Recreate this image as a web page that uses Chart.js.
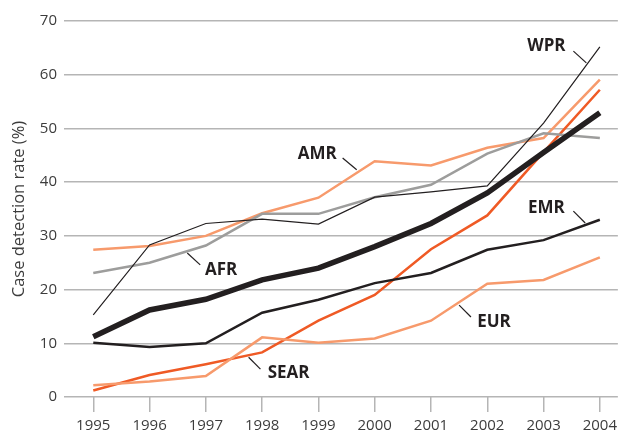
<!DOCTYPE html>
<html>
<head>
<meta charset="utf-8">
<script src="https://cdn.jsdelivr.net/npm/chart.js@4"></script>
<style>
  html, body { margin: 0; padding: 0; background: #fff; }
  #wrap { width: 622px; height: 432px; position: relative; }
</style>
</head>
<body>
<div id="wrap"><canvas id="line"></canvas></div>
<script>
const years = [1995, 1996, 1997, 1998, 1999, 2000, 2001, 2002, 2003, 2004];

const global = [11.2, 16.2, 18.2, 21.8, 24.0, 28.0, 32.3, 38.0, 45.5, 52.9];
const wpr    = [15.3, 28.3, 32.3, 33.1, 32.2, 37.2, 38.2, 39.3, 51.0, 65.2];
const afr    = [23.1, 25.0, 28.2, 34.1, 34.1, 37.2, 39.5, 45.3, 49.1, 48.2];
const amr    = [27.4, 28.1, 30.0, 34.2, 37.1, 43.9, 43.1, 46.4, 48.2, 59.1];
const emr    = [10.1, 9.3, 10.0, 15.7, 18.1, 21.2, 23.1, 27.4, 29.2, 33.0];
const sear   = [1.2, 4.1, 6.1, 8.3, 14.2, 19.0, 27.5, 33.8, 45.6, 57.2];
const eur    = [2.2, 2.9, 3.9, 11.1, 10.1, 10.9, 14.2, 21.1, 21.8, 26.0];

const yTicks = [0, 10, 20, 30, 40, 50, 60, 70];

const ink = '#231f20';
const grey = '#9d9d9c';
const salmon = '#f79a6c';
const redOrange = '#ef5a25';

const pts = arr => arr.map((v, i) => ({ x: years[i], y: v }));

// region labels with short leader lines (in data units)
const callouts = [
    { text: 'WPR',  x: 2003.05, y: 65.4, from: [2003.53, 64.4], to: [2003.76, 62.2] },
    { text: 'AMR',  x: 1998.98, y: 45.2, from: [1999.43, 44.5], to: [1999.68, 42.3] },
    { text: 'EMR',  x: 2003.05, y: 35.2, from: [2003.53, 34.6], to: [2003.74, 32.4] },
    { text: 'AFR',  x: 1997.27, y: 23.6, from: [1996.67, 26.8], to: [1996.90, 24.6] },
    { text: 'EUR',  x: 2002.12, y: 14.0, from: [2001.50, 17.1], to: [2001.71, 14.9] },
    { text: 'SEAR', x: 1998.47, y: 4.5,  from: [1997.76, 7.4],  to: [1997.97, 5.2] },
];

const calloutPlugin = {
    id: 'callouts',
    afterDatasetsDraw(chart) {
        const { ctx, scales: { x, y } } = chart;
        ctx.save();
        ctx.fillStyle = ink;
        ctx.strokeStyle = ink;
        ctx.lineWidth = 1.2;
        ctx.font = 'bold 17px "Open Sans"';
        ctx.textAlign = 'center';
        ctx.textBaseline = 'middle';
        callouts.forEach(c => {
            ctx.fillText(c.text, x.getPixelForValue(c.x), y.getPixelForValue(c.y));
            ctx.beginPath();
            ctx.moveTo(x.getPixelForValue(c.from[0]), y.getPixelForValue(c.from[1]));
            ctx.lineTo(x.getPixelForValue(c.to[0]), y.getPixelForValue(c.to[1]));
            ctx.stroke();
        });
        ctx.restore();
    }
};

const line = (label, arr, color, width) => ({
    label: label,
    data: pts(arr),
    borderColor: color,
    backgroundColor: color,
    borderWidth: width,
    pointRadius: 0,
    tension: 0,
    borderJoinStyle: 'miter',
    borderCapStyle: 'butt',
});

new Chart(
    document.getElementById('line'),
    {
        type: 'line',
        data: {
            datasets: [
                line('Global', global, ink, 5.5),
                line('WPR', wpr, ink, 1.2),
                line('EMR', emr, ink, 2.5),
                line('AFR', afr, grey, 2.5),
                line('AMR', amr, salmon, 2.5),
                line('EUR', eur, salmon, 2.5),
                line('SEAR', sear, redOrange, 2.5),
            ]
        },
        options: {
            responsive: true,
            maintainAspectRatio: false,
            animation: false,
            layout: { padding: { top: 21, right: 0, left: 0, bottom: 0 } },
            plugins: {
                legend: { display: false },
                tooltip: { enabled: false },
            },
            scales: {
                x: {
                    type: 'linear',
                    min: 1994.48,
                    max: 2004.32,
                    afterBuildTicks: scale => { scale.ticks = years.map(v => ({ value: v })); },
                    afterFit: scale => { scale.height = 35; },
                    border: { display: false },
                    grid: {
                        drawOnChartArea: false,
                        drawTicks: true,
                        tickLength: 15,
                        color: '#b5b5b5',
                        lineWidth: 1.5,
                    },
                    ticks: {
                        padding: 5,
                        color: '#3c3c3c',
                        font: { family: '"Open Sans"', size: 15 },
                        callback: v => String(v),
                        maxRotation: 0,
                    }
                },
                y: {
                    min: 0,
                    max: 70,
                    afterBuildTicks: scale => { scale.ticks = yTicks.map(v => ({ value: v })); },
                    afterFit: scale => { scale.width = 64; },
                    border: { display: false },
                    grid: {
                        drawTicks: false,
                        color: '#b5b5b5',
                        lineWidth: 1.5,
                    },
                    ticks: {
                        padding: 7,
                        color: '#3c3c3c',
                        font: { family: '"Open Sans"', size: 15 },
                    },
                    title: {
                        display: true,
                        text: 'Case detection rate (%)',
                        color: '#3c3c3c',
                        font: { family: '"Open Sans"', size: 16.5 },
                        padding: { top: 9, bottom: 0 },
                    }
                }
            }
        },
        plugins: [calloutPlugin]
    }
);
</script>
</body>
</html>
